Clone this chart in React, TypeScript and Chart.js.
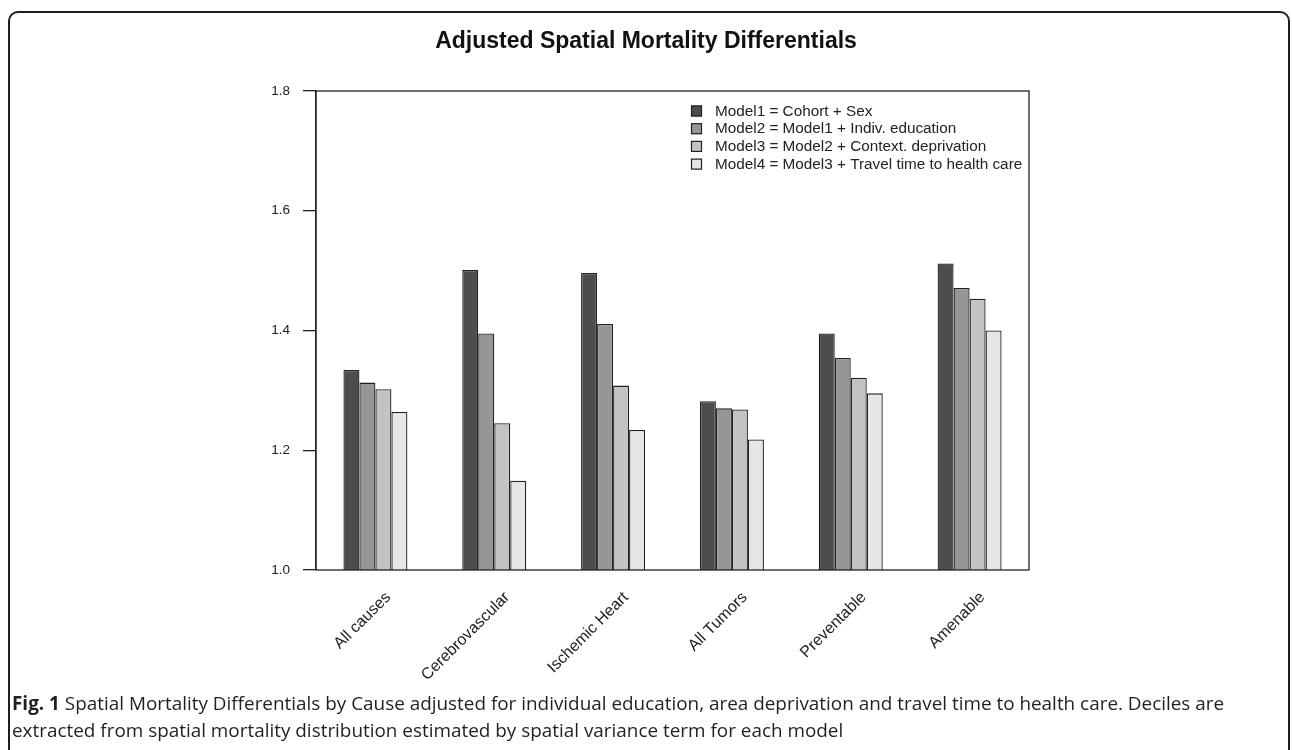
import React, { useEffect, useRef } from "react";
import { Chart, registerables } from "chart.js";

Chart.register(...registerables);

const categories = ["All causes", "Cerebrovascular", "Ischemic Heart", "All Tumors", "Preventable", "Amenable"];
const seriesLabels = [
  "Model1 = Cohort + Sex",
  "Model2 = Model1 + Indiv. education",
  "Model3 = Model2 + Context. deprivation",
  "Model4 = Model3 + Travel time to health care",
];
const model1 = [1.334, 1.501, 1.496, 1.282, 1.395, 1.512];
const model2 = [1.313, 1.395, 1.411, 1.27, 1.354, 1.471];
const model3 = [1.302, 1.245, 1.308, 1.268, 1.321, 1.453];
const model4 = [1.264, 1.149, 1.234, 1.218, 1.295, 1.4];
const seriesColors = ["#4d4d4d", "#969696", "#c3c3c3", "#e6e6e6"];
const yTicks = [1.0, 1.2, 1.4, 1.6, 1.8];

const FONT = "'Liberation Sans', Arial, sans-serif";
const INK = "#222";

const framePlugin = {
  id: "frameAndLabels",
  afterDraw(chart: any) {
    const { ctx, chartArea } = chart;
    const { left, right, top, bottom } = chartArea;
    ctx.save();
    // box
    ctx.strokeStyle = INK;
    ctx.lineWidth = 1.3;
    ctx.strokeRect(left, top, right - left, bottom - top);

    // rotated category labels
    const xs = chart.scales.x;
    ctx.fillStyle = INK;
    ctx.font = `16px ${FONT}`;
    ctx.textAlign = "right";
    ctx.textBaseline = "alphabetic";
    (chart.data.labels as string[]).forEach((lab, i) => {
      const px = xs.getPixelForValue(i) + 16;
      const py = bottom + 28;
      ctx.save();
      ctx.translate(px, py);
      ctx.rotate(-Math.PI / 4);
      ctx.fillText(lab, 0, 0);
      ctx.restore();
    });

    // legend (top right, inside plot)
    ctx.font = `15.3px ${FONT}`;
    ctx.textAlign = "left";
    ctx.textBaseline = "middle";
    chart.data.datasets.forEach((ds: any, i: number) => {
      const cy = top + 20 + i * 17.7;
      const sx = right - 338;
      ctx.fillStyle = ds.backgroundColor;
      ctx.fillRect(sx, cy - 5.5, 11, 11);
      ctx.strokeStyle = INK;
      ctx.lineWidth = 1.2;
      ctx.strokeRect(sx + 0.5, cy - 5, 10, 10);
      ctx.fillStyle = INK;
      ctx.fillText(ds.label, right - 314, cy + 0.5);
    });
    ctx.restore();
  },
};

export default function App() {
  const ref = useRef<HTMLCanvasElement | null>(null);

  useEffect(() => {
    if (!ref.current) return;
    const series = [model1, model2, model3, model4];
    const chart = new Chart(ref.current, {
      type: "bar",
      data: {
        labels: categories,
        datasets: series.map((d, i) => ({
          label: seriesLabels[i],
          data: d,
          backgroundColor: seriesColors[i],
          borderColor: INK,
          borderWidth: 1.3,
          borderSkipped: false,
          barPercentage: 1,
          categoryPercentage: 0.5386,
        })),
      },
      options: {
        animation: false,
        responsive: false,
        maintainAspectRatio: false,
        devicePixelRatio: 1,
        layout: { padding: { left: 0, top: 78, right: 259, bottom: 123 } },
        plugins: {
          legend: { display: false },
          title: { display: false },
          tooltip: { enabled: false },
        },
        scales: {
          x: {
            type: "category",
            offset: true,
            grid: { display: false },
            border: { display: false },
            ticks: { display: false },
            afterFit: (s: any) => {
              s.height = 0;
            },
          },
          y: {
            type: "linear",
            min: 1,
            max: 1.8,
            afterBuildTicks: (s: any) => {
              s.ticks = yTicks.map((v) => ({ value: v }));
            },
            afterFit: (s: any) => {
              s.width = 306;
            },
            grid: {
              display: true,
              drawOnChartArea: false,
              drawTicks: true,
              tickLength: 13,
              color: INK,
              lineWidth: 1.3,
            },
            border: { display: true, color: INK, width: 1.3 },
            ticks: {
              color: INK,
              padding: 13,
              font: { family: FONT, size: 13.5 },
              callback: (v: any) => Number(v).toFixed(1),
            },
          },
        },
      },
      plugins: [framePlugin],
    } as any);
    return () => chart.destroy();
  }, []);

  return (
    <div style={{ position: "absolute", left: 0, top: 0, width: 1292, height: 750, overflow: "hidden", background: "#fff" }}>
      <div
        style={{
          position: "absolute",
          left: 8,
          top: 11,
          width: 1278,
          height: 800,
          border: "2px solid #1e1e1e",
          borderRadius: 10,
        }}
      >
        <canvas ref={ref} width={1278} height={680} style={{ position: "absolute", left: 0, top: 0, width: 1278, height: 680 }} />
        <div
          style={{
            position: "absolute",
            left: 0,
            top: 13.7,
            width: 1272,
            textAlign: "center",
            fontFamily: FONT,
            fontWeight: "bold",
            fontSize: 23,
            lineHeight: "27px",
            color: "#111",
          }}
        >
          Adjusted Spatial Mortality Differentials
        </div>
        <div
          style={{
            position: "absolute",
            left: 2,
            top: 677,
            whiteSpace: "nowrap",
            fontFamily: "'Open Sans', sans-serif",
            fontSize: 18.9,
            lineHeight: "27px",
            color: "#231f20",
          }}
        >
          <b>Fig. 1</b> Spatial Mortality Differentials by Cause adjusted for individual education, area deprivation and travel time to health care. Deciles are
          <br />
          extracted from spatial mortality distribution estimated by spatial variance term for each model
        </div>
      </div>
    </div>
  );
}
